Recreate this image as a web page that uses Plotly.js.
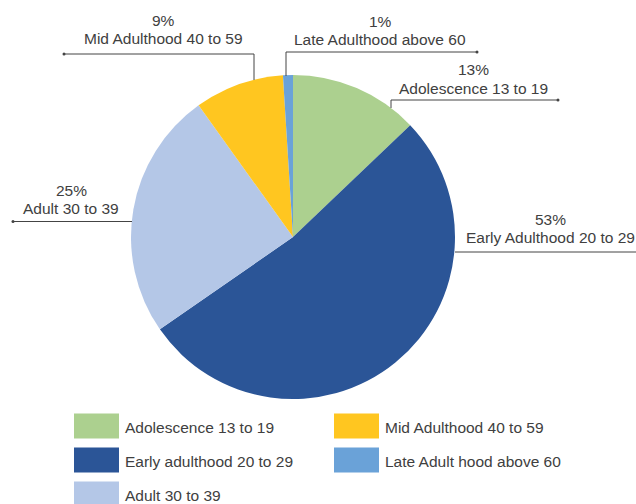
<!DOCTYPE html>
<html>
<head>
<meta charset="utf-8">
<script src="https://cdn.plot.ly/plotly-3.0.1.min.js"></script>
<style>html,body{margin:0;padding:0;background:#fff;}#chart{width:636px;height:504px;}</style>
</head>
<body>
<div id="chart"></div>
<script>
// Data (pie order, clockwise from 12 o'clock)
var sliceLabels = ["Adolescence 13 to 19", "Early Adulthood 20 to 29", "Adult 30 to 39", "Mid Adulthood 40 to 59", "Late Adulthood above 60"];
var sliceValues = [13, 53, 25, 9, 1];
var sliceColors = ["#ACD08F", "#2B5597", "#B4C7E7", "#FFC620", "#6AA2D8"];
var pctText = ["13%", "53%", "25%", "9%", "1%"];
// Legend (row-major, two columns)
var legendLabels = ["Adolescence 13 to 19", "Mid Adulthood 40 to 59", "Early adulthood 20 to 29", "Late Adult hood above 60", "Adult 30 to 39"];
var legendColors = ["#ACD08F", "#FFC620", "#2B5597", "#6AA2D8", "#B4C7E7"];

var W = 636, H = 504;
function px(x){ return x / W; }
function py(y){ return 1 - y / H; }

var cx = 293, cy = 237, R = 162;
var trace = {
  type: "pie",
  values: sliceValues,
  labels: sliceLabels,
  marker: {colors: sliceColors, line: {width: 0}},
  sort: false,
  direction: "clockwise",
  rotation: 0,
  textinfo: "none",
  hoverinfo: "label+percent",
  showlegend: false,
  domain: {x: [px(cx - R), px(cx + R)], y: [py(cy + R), py(cy - R)]}
};

// Callout geometry (layout only): text centre x, line y's, and leader polyline per slice
var callouts = [
  {tx: 474, ty: [70, 88], pts: [[391, 108], [391, 100], [558, 100]], dot: [558, 100]},
  {tx: 550, ty: [219, 237], pts: [[455, 252], [636, 252]], dot: null},
  {tx: 71, ty: [190, 208], pts: [[132, 221.5], [13, 221.5]], dot: [13, 221.5]},
  {tx: 163, ty: [21, 39], pts: [[254, 80], [254, 54], [64, 54]], dot: [64, 54]},
  {tx: 380, ty: [22, 40], pts: [[286, 76], [286, 52], [477, 52]], dot: [477, 52]}
];

var textColor = "#404040";
var font = {family: "Liberation Sans, Arial, sans-serif", size: 15.5, color: textColor};
var annotations = [];
var shapes = [];

callouts.forEach(function(c, i){
  [pctText[i], sliceLabels[i]].forEach(function(t, j){
    annotations.push({
      xref: "paper", yref: "paper", x: px(c.tx), y: py(c.ty[j]),
      xanchor: "center", yanchor: "middle", showarrow: false,
      text: t, font: font
    });
  });
  for (var k = 0; k < c.pts.length - 1; k++) {
    shapes.push({type: "line", xref: "paper", yref: "paper",
      x0: px(c.pts[k][0]), y0: py(c.pts[k][1]), x1: px(c.pts[k+1][0]), y1: py(c.pts[k+1][1]),
      line: {color: "#444", width: 1}});
  }
  if (c.dot) {
    shapes.push({type: "circle", xref: "paper", yref: "paper",
      x0: px(c.dot[0] - 1.5), x1: px(c.dot[0] + 1.5), y0: py(c.dot[1] + 1.5), y1: py(c.dot[1] - 1.5),
      fillcolor: "#444", line: {width: 0}});
  }
});

// Legend boxes
var colX = [74, 334], rowY = [426, 460, 494];
legendLabels.forEach(function(lab, i){
  var col = i % 2, row = Math.floor(i / 2);
  var x0 = colX[col], yc = rowY[row];
  shapes.push({type: "rect", xref: "paper", yref: "paper",
    x0: px(x0), x1: px(x0 + 45), y0: py(yc + 12.5), y1: py(yc - 12.5),
    fillcolor: legendColors[i], line: {width: 0}});
  annotations.push({xref: "paper", yref: "paper", x: px(x0 + 49), y: py(yc + 1),
    xanchor: "left", yanchor: "middle", showarrow: false, text: lab, font: font});
});

var layout = {
  width: W, height: H,
  margin: {l: 0, r: 0, t: 0, b: 0},
  paper_bgcolor: "#ffffff",
  plot_bgcolor: "#ffffff",
  annotations: annotations,
  shapes: shapes
};

Plotly.newPlot("chart", [trace], layout, {displayModeBar: false, staticPlot: true});
</script>
</body>
</html>
